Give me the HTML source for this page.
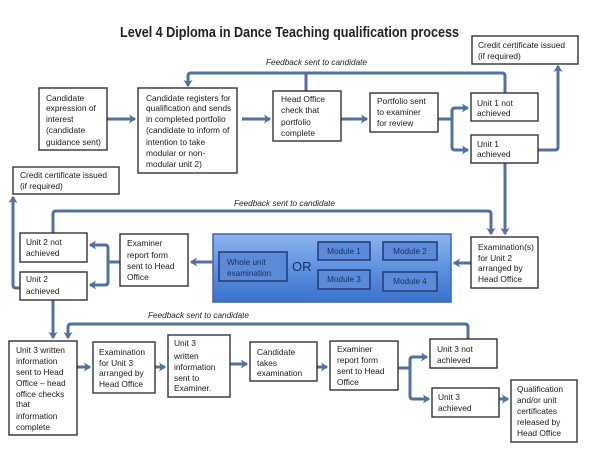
<!DOCTYPE html>
<html><head><meta charset="utf-8">
<style>
html,body{margin:0;padding:0;background:#fff;}
svg{display:block;}
text{font-family:"Liberation Sans",Arial,sans-serif;}
.t{font-size:8.4px;fill:#1a1a1a;}
.m{font-size:8.2px;fill:#1a2f5a;}
.fb{font-size:8px;font-style:italic;fill:#222;}
.b{fill:#fff;stroke:#333;stroke-width:1.4;}
.c{fill:none;stroke:#4f72a0;stroke-width:3;}
.ca{fill:none;stroke:#4f72a0;stroke-width:3;marker-end:url(#ar);}
.mb{fill:#5a8ad8;stroke:#23407a;stroke-width:1.6;}
</style></head>
<body>
<svg width="600" height="449" viewBox="0 0 600 449" xmlns="http://www.w3.org/2000/svg">
<defs>
<marker id="ar" markerWidth="10" markerHeight="10" refX="2.0" refY="3" orient="auto" markerUnits="strokeWidth">
<path d="M0,1.5 L2.4,3 L0,4.5 L0.6,3 z" fill="#4f72a0"/>
</marker>
<linearGradient id="bg" x1="0" y1="0" x2="0" y2="1">
<stop offset="0" stop-color="#8cb4ec"/>
<stop offset="0.5" stop-color="#5f93e0"/>
<stop offset="1" stop-color="#3a72cc"/>
</linearGradient>
</defs>

<!-- Title -->
<text x="120" y="37" font-size="14.5" font-weight="bold" fill="#222" textLength="339" lengthAdjust="spacingAndGlyphs">Level 4 Diploma in Dance Teaching qualification process</text>

<!-- Feedback labels -->
<text class="fb" x="266" y="65" textLength="101" lengthAdjust="spacingAndGlyphs">Feedback sent to candidate</text>
<text class="fb" x="234" y="206" textLength="101" lengthAdjust="spacingAndGlyphs">Feedback sent to candidate</text>
<text class="fb" x="148" y="318" textLength="101" lengthAdjust="spacingAndGlyphs">Feedback sent to candidate</text>

<!-- Connectors -->
<path class="ca" d="M107,119 H135"/>
<path class="ca" d="M242,119 H270"/>
<path class="ca" d="M341,119 H367"/>
<path class="c" d="M438,119 H452"/>
<path class="ca" d="M452,119 V111 Q452,108 455,108 H468"/>
<path class="ca" d="M452,119 V147 Q452,150 455,150 H468"/>
<path class="ca" d="M505,93 V76 Q505,73 502,73 H191 Q188,73 188,76 V86"/>
<path class="c" d="M306,91 V73"/>
<path class="ca" d="M538,150 H555 Q558,150 558,147 V66"/>
<path class="ca" d="M505,163 V234"/>
<path class="ca" d="M53,233 V214 Q53,211 56,211 H488 Q491,211 491,214 V234"/>
<path class="ca" d="M471,263 H454"/>
<path class="ca" d="M213,262 H191"/>
<path class="c" d="M120,262 H108"/>
<path class="ca" d="M108,262 V248 Q108,245 105,245 H90"/>
<path class="ca" d="M108,262 V282 Q108,285 105,285 H90"/>
<path class="ca" d="M20,288 H16 Q13,288 13,285 V197"/>
<path class="ca" d="M53,300 V338"/>
<path class="ca" d="M468,339 V327 Q468,324 465,324 H71 Q68,324 68,327 V338"/>
<path class="ca" d="M77,367 H90"/>
<path class="ca" d="M155,367 H165"/>
<path class="ca" d="M230,364 H247"/>
<path class="ca" d="M317,367 H327"/>
<path class="c" d="M398,368 H410"/>
<path class="ca" d="M410,368 V360 Q410,357 413,357 H427"/>
<path class="ca" d="M410,368 V396 Q410,399 413,399 H429"/>
<path class="ca" d="M499,399 H508"/>

<!-- Boxes -->
<rect class="b" x="39" y="88" width="68" height="62"/>
<rect class="b" x="138" y="88" width="99" height="85"/>
<rect class="b" x="273" y="91" width="68" height="50"/>
<rect class="b" x="370" y="93" width="68" height="39"/>
<rect class="b" x="471" y="93" width="67" height="28"/>
<rect class="b" x="471" y="135" width="67" height="28"/>
<rect class="b" x="472" y="36" width="106" height="28"/>
<rect class="b" x="13" y="167" width="106" height="27"/>
<rect class="b" x="20" y="233" width="67" height="29"/>
<rect class="b" x="20" y="272" width="67" height="28"/>
<rect class="b" x="120" y="234" width="68" height="52"/>
<rect x="213" y="234" width="238" height="68" fill="url(#bg)" stroke="#3868b0" stroke-width="1.5"/>
<rect class="mb" x="219" y="252" width="68" height="29"/>
<rect class="mb" x="318" y="242" width="52" height="18"/>
<rect class="mb" x="383" y="242" width="54" height="18"/>
<rect class="mb" x="318" y="270" width="52" height="19"/>
<rect class="mb" x="383" y="272" width="54" height="19"/>
<rect class="b" x="471" y="237" width="67" height="51"/>
<rect class="b" x="9" y="341" width="68" height="94"/>
<rect class="b" x="93" y="342" width="62" height="51"/>
<rect class="b" x="168" y="335" width="62" height="62"/>
<rect class="b" x="250" y="342" width="67" height="39"/>
<rect class="b" x="330" y="341" width="68" height="49"/>
<rect class="b" x="430" y="339" width="67" height="29"/>
<rect class="b" x="432" y="388" width="67" height="29"/>
<rect class="b" x="511" y="380" width="66" height="62"/>

<!-- Box texts -->
<text class="t" x="46" y="101">Candidate</text>
<text class="t" x="46" y="111">expression of</text>
<text class="t" x="46" y="122">interest</text>
<text class="t" x="46" y="133">(candidate</text>
<text class="t" x="46" y="145">guidance sent)</text>

<text class="t" x="146" y="101">Candidate registers for</text>
<text class="t" x="146" y="111">qualification and sends</text>
<text class="t" x="146" y="122">in completed portfolio</text>
<text class="t" x="146" y="133">(candidate to inform of</text>
<text class="t" x="146" y="145">intention to take</text>
<text class="t" x="146" y="156">modular or non-</text>
<text class="t" x="146" y="167">modular unit 2)</text>

<text class="t" x="281" y="102">Head Office</text>
<text class="t" x="281" y="113">check that</text>
<text class="t" x="281" y="125">portfolio</text>
<text class="t" x="281" y="136">complete</text>

<text class="t" x="377" y="104">Portfolio sent</text>
<text class="t" x="377" y="115">to examiner</text>
<text class="t" x="377" y="126">for review</text>

<text class="t" x="477" y="106">Unit 1 not</text>
<text class="t" x="477" y="116">achieved</text>

<text class="t" x="477" y="147">Unit 1</text>
<text class="t" x="477" y="157">achieved</text>

<text class="t" x="478" y="48">Credit certificate issued</text>
<text class="t" x="478" y="59">(if required)</text>

<text class="t" x="20" y="178">Credit certificate issued</text>
<text class="t" x="20" y="189">(if required)</text>

<text class="t" x="26" y="245">Unit 2 not</text>
<text class="t" x="26" y="256">achieved</text>

<text class="t" x="26" y="282">Unit 2</text>
<text class="t" x="26" y="294">achieved</text>

<text class="t" x="127" y="246">Examiner</text>
<text class="t" x="127" y="258">report form</text>
<text class="t" x="127" y="269">sent to Head</text>
<text class="t" x="127" y="280">Office</text>

<text class="m" x="227" y="265">Whole unit</text>
<text class="m" x="227" y="276">examination</text>
<text x="292" y="271" font-size="13" fill="#1a2f5a">OR</text>
<text class="m" x="344" y="254" text-anchor="middle">Module 1</text>
<text class="m" x="410" y="254" text-anchor="middle">Module 2</text>
<text class="m" x="344" y="282" text-anchor="middle">Module 3</text>
<text class="m" x="410" y="284" text-anchor="middle">Module 4</text>

<text class="t" x="478" y="250">Examination(s)</text>
<text class="t" x="478" y="261">for Unit 2</text>
<text class="t" x="478" y="271">arranged by</text>
<text class="t" x="478" y="282">Head Office</text>

<text class="t" x="16" y="353">Unit 3 written</text>
<text class="t" x="16" y="364">information</text>
<text class="t" x="16" y="375">sent to Head</text>
<text class="t" x="16" y="386">Office – head</text>
<text class="t" x="16" y="397">office checks</text>
<text class="t" x="16" y="407">that</text>
<text class="t" x="16" y="419">information</text>
<text class="t" x="16" y="430">complete</text>

<text class="t" x="99" y="355">Examination</text>
<text class="t" x="99" y="366">for Unit 3</text>
<text class="t" x="99" y="376">arranged by</text>
<text class="t" x="99" y="387">Head Office</text>

<text class="t" x="174" y="346">Unit 3</text>
<text class="t" x="174" y="359">written</text>
<text class="t" x="174" y="370">information</text>
<text class="t" x="174" y="381">sent to</text>
<text class="t" x="174" y="391">Examiner.</text>

<text class="t" x="257" y="355">Candidate</text>
<text class="t" x="257" y="366">takes</text>
<text class="t" x="257" y="376">examination</text>

<text class="t" x="337" y="352">Examiner</text>
<text class="t" x="337" y="363">report form</text>
<text class="t" x="337" y="374">sent to Head</text>
<text class="t" x="337" y="385">Office</text>

<text class="t" x="437" y="352">Unit 3 not</text>
<text class="t" x="437" y="363">achieved</text>

<text class="t" x="438" y="400">Unit 3</text>
<text class="t" x="438" y="411">achieved</text>

<text class="t" x="517" y="392">Qualification</text>
<text class="t" x="517" y="403">and/or unit</text>
<text class="t" x="517" y="414">certificates</text>
<text class="t" x="517" y="425">released by</text>
<text class="t" x="517" y="436">Head Office</text>
</svg>
</body></html>
